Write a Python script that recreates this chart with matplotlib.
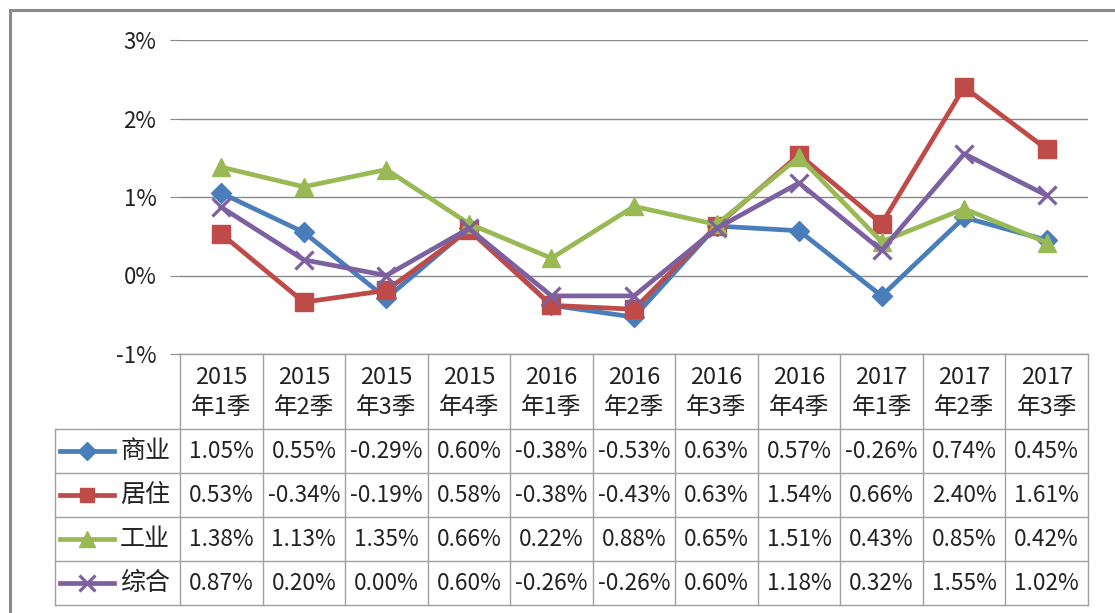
import matplotlib
matplotlib.use('Agg')
import matplotlib.pyplot as plt

plt.rcParams['font.family'] = ['Noto Sans CJK SC', 'DejaVu Sans']
plt.rcParams['axes.unicode_minus'] = False

# ---- 数据 ----
quarters = ['2015\n年1季', '2015\n年2季', '2015\n年3季', '2015\n年4季',
            '2016\n年1季', '2016\n年2季', '2016\n年3季', '2016\n年4季',
            '2017\n年1季', '2017\n年2季', '2017\n年3季']
names = ['商业', '居住', '工业', '综合']
shangye = [1.05, 0.55, -0.29, 0.60, -0.38, -0.53, 0.63, 0.57, -0.26, 0.74, 0.45]
juzhu = [0.53, -0.34, -0.19, 0.58, -0.38, -0.43, 0.63, 1.54, 0.66, 2.40, 1.61]
gongye = [1.38, 1.13, 1.35, 0.66, 0.22, 0.88, 0.65, 1.51, 0.43, 0.85, 0.42]
zonghe = [0.87, 0.20, 0.00, 0.60, -0.26, -0.26, 0.60, 1.18, 0.32, 1.55, 1.02]
yticks = [-1, 0, 1, 2, 3]

series = [shangye, juzhu, gongye, zonghe]
colors = ['#4A7EBB', '#BE4B48', '#98B954', '#7D60A0']
markers = ['D', 's', '^', 'x']
msizes = [10.5, 12.5, 13.5, 13.5]

W, H = 1115, 613
fig = plt.figure(figsize=(W / 100, H / 100), dpi=100)

# 外框
frame = fig.add_axes([0, 0, 1, 1])
frame.set_xlim(0, W)
frame.set_ylim(H, 0)
frame.axis('off')
frame.plot([10, 10], [10, H], color='#8A8A8A', lw=2.2)
frame.plot([10, W], [10, 10], color='#8A8A8A', lw=2.2)

# ---- 折线图区域 ----
x_left, x_right, y_top, y_bot = 180, 1088, 40, 354
ax = fig.add_axes([x_left / W, (H - y_bot) / H, (x_right - x_left) / W, (y_bot - y_top) / H])
ax.set_xlim(-0.5, len(quarters) - 0.5)
ax.set_ylim(-1, 3)
ax.set_yticks(yticks)
ax.set_yticklabels([f'{v}%' for v in yticks], fontsize=16, color='#222222')
ax.set_xticks([])
for s in ax.spines.values():
    s.set_visible(False)
ax.tick_params(axis='y', length=7, color='#888888', pad=10)
ax.grid(axis='y', color='#888888', lw=1)
ax.set_axisbelow(True)
ax.patch.set_alpha(0)

xs = range(len(quarters))
for vals, c, m, ms in zip(series, colors, markers, msizes):
    mew = 2.3 if m == 'x' else 1
    ax.plot(xs, vals, color=c, lw=3.4, marker=m, markersize=ms,
            markeredgewidth=mew, markeredgecolor=c, clip_on=False)

# ---- 数据表 ----
tab = frame
grid_c = '#A0A0A0'
col_w = (x_right - x_left) / len(quarters)
row_top = [354, 429, 473, 517, 561, 605]
leg_left = 55

# 横线
tab.plot([x_left, x_right], [row_top[0]] * 2, color=grid_c, lw=1)
for yy in row_top[1:]:
    tab.plot([leg_left, x_right], [yy, yy], color=grid_c, lw=1)
# 竖线
tab.plot([leg_left, leg_left], [row_top[1], row_top[-1]], color=grid_c, lw=1)
for k in range(len(quarters) + 1):
    xx = x_left + k * col_w
    tab.plot([xx, xx], [row_top[0], row_top[-1]], color=grid_c, lw=1)

# 表头
for k, q in enumerate(quarters):
    tab.text(x_left + (k + 0.5) * col_w, (row_top[0] + row_top[1]) / 2 + 1, q,
             ha='center', va='center', fontsize=17, color='#222222', linespacing=1.35)

# 各行
for r, (name, vals, c, m, ms) in enumerate(zip(names, series, colors, markers, msizes)):
    yc = (row_top[r + 1] + row_top[r + 2]) / 2
    tab.plot([60, 114], [yc, yc], color=c, lw=3.4)
    mew = 2.3 if m == 'x' else 1
    tab.plot([87], [yc], color=c, marker=m, markersize=ms * 0.85,
             markeredgewidth=mew, markeredgecolor=c)
    tab.text(145, yc, name, ha='center', va='center', fontsize=18, color='#222222')
    for k, v in enumerate(vals):
        tab.text(x_left + (k + 0.5) * col_w, yc, f'{v:.2f}%',
                 ha='center', va='center', fontsize=16.3, color='#222222')

fig.savefig('out.png', dpi=100)
